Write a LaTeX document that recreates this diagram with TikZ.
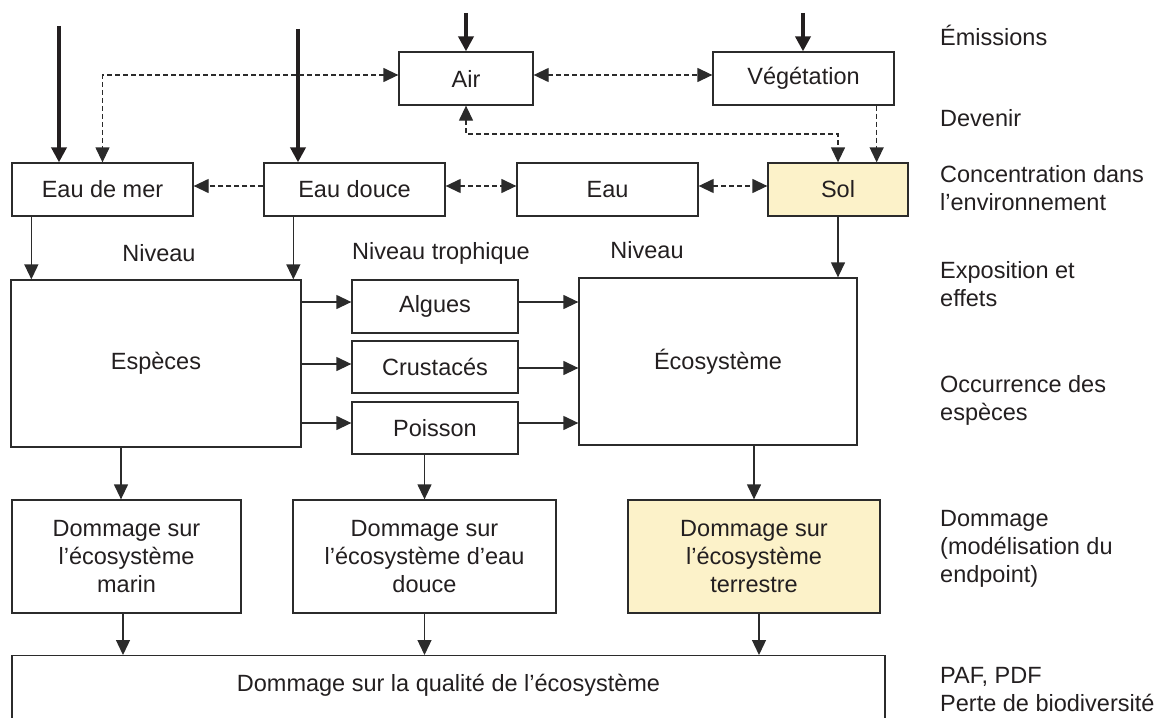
\documentclass[tikz,border=0pt]{standalone}
\usepackage{fontspec}
\setmainfont{Liberation Sans}
\usetikzlibrary{arrows.meta,calc}
\definecolor{txt}{HTML}{231F20}
\definecolor{ln}{HTML}{2B2B2B}
\definecolor{sand}{HTML}{FCF2C9}
\begin{document}
\begin{tikzpicture}[x=1pt,y=-1pt,
  every node/.style={font=\fontsize{23.5}{28}\selectfont, text=txt},
  box/.style={draw=ln, line width=1.3pt, inner sep=0pt, align=center},
  wh/.style 2 args={minimum width=#1pt, minimum height=#2pt},
  arr/.style={draw=ln, line width=1.3pt, -{Triangle[length=15pt,width=14pt]}},
  biarr/.style={draw=ln, line width=1.3pt, {Triangle[length=15pt,width=14pt]}-{Triangle[length=15pt,width=14pt]}},
  dsh/.style={dash pattern=on 5pt off 3pt},
  emarr/.style={draw=txt, line width=4.3pt, -{Triangle[length=15pt,width=15pt]}},
  lab/.style={anchor=west, align=left, inner sep=0pt}
]
\useasboundingbox (0,0) rectangle (1161,717);

% row 1
\node[box, wh={134}{53}] (air) at (466,78.5) {Air};
\node[box, wh={181}{53}] (veg) at (803.5,78.5) {Végétation};
% row 2
\node[box, wh={181}{53}] (mer) at (102.5,189.5) {Eau de mer};
\node[box, wh={181}{53}] (douce) at (354.5,189.5) {Eau douce};
\node[box, wh={181}{53}] (eau) at (607.5,189.5) {Eau};
\node[box, wh={140}{53}, fill=sand] (sol) at (838,189.5) {Sol};
% row 3
\node[box, wh={290}{167}] (esp) at (156,363.5) {Espèces};
\node[box, wh={166}{53}] (alg) at (435,306.5) {Algues};
\node[box, wh={166}{52}] (cru) at (435,367) {Crustacés};
\node[box, wh={166}{52}] (poi) at (435,428) {Poisson};
\node[box, wh={278}{167}] (eco) at (718,361.5) {Écosystème};
% row 4
\node[box, wh={229}{113}] (dm) at (126.5,556.5) {Dommage sur\\l’écosystème\\marin};
\node[box, wh={263}{113}] (dd) at (424.5,556.5) {Dommage sur\\l’écosystème d’eau\\douce};
\node[box, wh={252}{113}, fill=sand] (dt) at (754,556.5) {Dommage sur\\l’écosystème\\terrestre};
% bottom
\node[box, anchor=north, minimum width=873pt, text height=36pt, text depth=34pt] (q) at (448.5,655) {Dommage sur la qualité de l’écosystème};

% level labels
\node (n1) at (159,253) {Niveau};
\node (n2) at (441,253) {Niveau trophique};
\node (n3) at (647,250) {Niveau};

% right labels
\node[lab] (r1) at (940,35) {Émissions};
\node[lab] (r2) at (940,118) {Devenir};
\node[lab] (r3) at (940,188) {Concentration dans\\l’environnement};
\node[lab] (r4) at (940,284) {Exposition et\\effets};
\node[lab] (r5) at (940,400) {Occurrence des\\espèces};
\node[lab] (r6) at (940,549) {Dommage\\(modélisation du\\endpoint)};
\node[lab] (r7) at (940,690) {PAF, PDF\\Perte de biodiversité};

% emissions
\coordinate (e1) at (59,26);
\coordinate (e2) at (298,29);
\coordinate (e3) at (466,13);
\coordinate (e4) at (803,13);
\draw[emarr] (e1) -- (e1 |- mer.north);
\draw[emarr] (e2) -- (e2 |- douce.north);
\draw[emarr] (e3) -- (air.north);
\draw[emarr] (e4) -- (e4 |- veg.north);

% fate (dashed)
\draw[biarr, dsh] ($(air.west)+(0,-3.5)$) -| (mer.north);
\draw[biarr, dsh] ($(air.east)+(0,-3.5)$) -- ($(veg.west)+(0,-3.5)$);
\coordinate (airbend) at (466,134);
\draw[biarr, dsh] (air.south) -- (airbend) -| (sol.north);
\draw[arr, dsh] ($(veg.south east)+(-18,0)$) -- ($(veg.south east |- sol.north)+(-18,0)$);
\draw[arr, dsh] ($(douce.west)+(0,-3.5)$) -- ($(mer.east)+(0,-3.5)$);
\draw[biarr, dsh] ($(douce.east)+(0,-3.5)$) -- ($(eau.west)+(0,-3.5)$);
\draw[biarr, dsh] ($(eau.east)+(0,-3.5)$) -- ($(sol.west)+(0,-3.5)$);

% exposure
\draw[arr] ($(mer.south west)+(20,0)$) -- ($(mer.south west |- esp.north)+(20,0)$);
\draw[arr] ($(douce.south west)+(30,0)$) -- ($(douce.south west |- esp.north)+(30,0)$);
\draw[arr] (sol.south) -- (sol.south |- eco.north);

% trophic
\draw[arr] ($(esp.east |- alg.west)+(0,-4.5)$) -- ($(alg.west)+(0,-4.5)$);
\draw[arr] ($(esp.east |- cru.west)+(0,-3)$) -- ($(cru.west)+(0,-3)$);
\draw[arr] ($(esp.east |- poi.west)+(0,-5)$) -- ($(poi.west)+(0,-5)$);
\draw[arr] ($(alg.east)+(0,-4.5)$) -- ($(eco.west |- alg.east)+(0,-4.5)$);
\draw[arr] ($(cru.east)+(0,1)$) -- ($(eco.west |- cru.east)+(0,1)$);
\draw[arr] ($(poi.east)+(0,-5)$) -- ($(eco.west |- poi.east)+(0,-5)$);

% damage
\draw[arr] ($(esp.south)+(-35,0)$) -- ($(esp.south |- dm.north)+(-35,0)$);
\draw[arr] (dd.north |- poi.south) -- (dd.north);
\draw[arr] (dt.north |- eco.south) -- (dt.north);
\draw[arr] ($(dm.south)+(-3.5,0)$) -- ($(dm.south |- q.north)+(-3.5,0)$);
\draw[arr] (dd.south) -- (dd.south |- q.north);
\draw[arr] ($(dt.south)+(5,0)$) -- ($(dt.south |- q.north)+(5,0)$);
\end{tikzpicture}
\end{document}
